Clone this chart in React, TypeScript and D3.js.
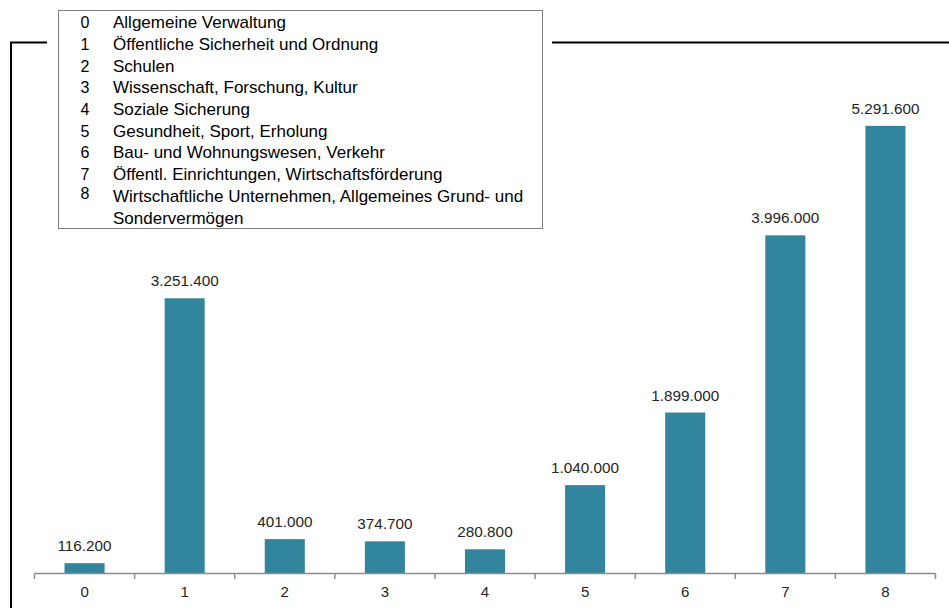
import React from "react";
import * as d3 from "d3";

const categories = ["0", "1", "2", "3", "4", "5", "6", "7", "8"];
const values = [116200, 3251400, 401000, 374700, 280800, 1040000, 1899000, 3996000, 5291600];
const legendNumbers = ["0", "1", "2", "3", "4", "5", "6", "7", "8"];
const legendLabels = [
  ["Allgemeine Verwaltung"],
  ["Öffentliche Sicherheit und Ordnung"],
  ["Schulen"],
  ["Wissenschaft, Forschung, Kultur"],
  ["Soziale Sicherung"],
  ["Gesundheit, Sport, Erholung"],
  ["Bau- und Wohnungswesen, Verkehr"],
  ["Öffentl. Einrichtungen, Wirtschaftsförderung"],
  ["Wirtschaftliche Unternehmen, Allgemeines Grund- und", "Sondervermögen"],
];

const W = 949;
const H = 608;
const font = "'Liberation Sans', Arial, sans-serif";

const fmt = (v: number) => d3.format(",")(v).replace(/,/g, ".");

export default function App() {
  const x = d3.scaleBand<string>().domain(categories).range([34.5, 935.5]).paddingInner(0).paddingOuter(0);
  const y = d3.scaleLinear().domain([0, 6000000]).range([573, 66]);
  const bw = x.bandwidth() * 0.4;
  const ticks = d3.range(categories.length + 1).map((i) => 34.5 + i * x.bandwidth());

  let rowY = 28.2;
  const rows: { n: string; lines: string[]; y: number }[] = [];
  legendLabels.forEach((lines, i) => {
    rows.push({ n: legendNumbers[i], lines, y: rowY });
    rowY += 21.7 * lines.length;
  });

  return (
    <svg width={W} height={H} style={{ position: "absolute", left: 0, top: 0, background: "#fff" }} fontFamily={font}>
      {/* outer frame lines */}
      <path d="M11,608 L11,42.5 L47,42.5" fill="none" stroke="#000" strokeWidth={2} />
      <line x1={552} x2={949} y1={42.5} y2={42.5} stroke="#000" strokeWidth={2} />

      {/* bars */}
      {values.map((v, i) => {
        const cx = x(categories[i])! + x.bandwidth() / 2;
        return (
          <g key={i}>
            <rect x={cx - bw / 2} y={y(v)} width={bw} height={573 - y(v)} fill="#31859C" />
            <text x={cx} y={y(v) - 12} textAnchor="middle" fontSize={15.3} fill="#262626">
              {fmt(v)}
            </text>
          </g>
        );
      })}

      {/* axis */}
      <line x1={34.5} x2={935.5} y1={573.5} y2={573.5} stroke="#8c8c8c" strokeWidth={1.5} />
      {ticks.map((t, i) => (
        <line key={i} x1={t} x2={t} y1={573.5} y2={579} stroke="#8c8c8c" strokeWidth={1.5} />
      ))}
      {categories.map((c) => (
        <text key={c} x={x(c)! + x.bandwidth() / 2} y={597} textAnchor="middle" fontSize={15} fill="#262626">
          {c}
        </text>
      ))}

      {/* legend */}
      <rect x={58.5} y={10.5} width={484} height={218} fill="#fff" stroke="#808080" strokeWidth={1} />
      {rows.map((r) => (
        <g key={r.n}>
          <text x={85} y={r.lines.length > 1 ? r.y - 3 : r.y} textAnchor="middle" fontSize={16} fill="#000">
            {r.n}
          </text>
          {r.lines.map((l, j) => (
            <text key={j} x={113} y={r.y + j * 21.7} fontSize={17} fill="#000">
              {l}
            </text>
          ))}
        </g>
      ))}
    </svg>
  );
}
